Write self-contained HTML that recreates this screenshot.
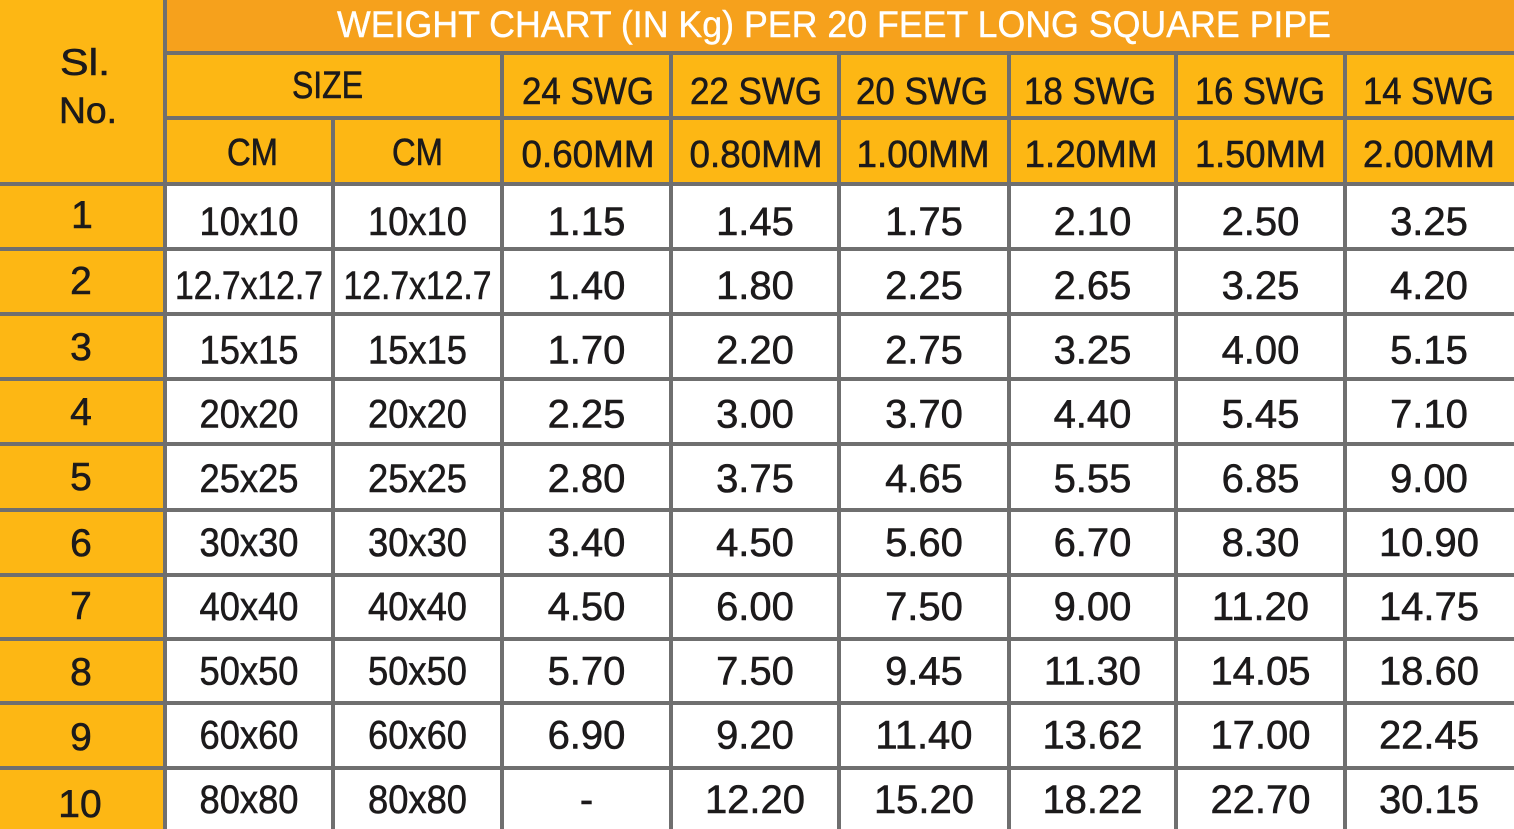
<!DOCTYPE html>
<html><head><meta charset="utf-8"><style>
html,body{margin:0;padding:0;background:#fff;}
svg{display:block;}
text{font-family:"Liberation Sans","DejaVu Sans",sans-serif;}
</style></head><body>
<svg width="1514" height="829" viewBox="0 0 1514 829" xmlns="http://www.w3.org/2000/svg">
<rect x="0" y="0" width="1514" height="829" fill="#6f6f6f"/>
<rect x="0" y="0" width="163" height="182" fill="#fdb714"/>
<rect x="167" y="0" width="1347" height="51" fill="#f6a11c"/>
<g fill="#fdb714">
<rect x="167" y="55" width="333" height="61"/>
<rect x="504" y="55" width="165" height="61"/>
<rect x="673" y="55" width="164" height="61"/>
<rect x="841" y="55" width="166" height="61"/>
<rect x="1011" y="55" width="163" height="61"/>
<rect x="1178" y="55" width="165" height="61"/>
<rect x="1347" y="55" width="167" height="61"/>
<rect x="167" y="120" width="164" height="62"/>
<rect x="335" y="120" width="165" height="62"/>
<rect x="504" y="120" width="165" height="62"/>
<rect x="673" y="120" width="164" height="62"/>
<rect x="841" y="120" width="166" height="62"/>
<rect x="1011" y="120" width="163" height="62"/>
<rect x="1178" y="120" width="165" height="62"/>
<rect x="1347" y="120" width="167" height="62"/>
<rect x="0" y="186" width="163" height="61"/>
<rect x="0" y="251" width="163" height="61"/>
<rect x="0" y="316" width="163" height="61"/>
<rect x="0" y="381" width="163" height="61"/>
<rect x="0" y="446" width="163" height="62"/>
<rect x="0" y="512" width="163" height="61"/>
<rect x="0" y="577" width="163" height="60"/>
<rect x="0" y="641" width="163" height="60"/>
<rect x="0" y="705" width="163" height="61"/>
<rect x="0" y="770" width="163" height="59"/>
</g>
<g fill="#ffffff">
<rect x="167" y="186" width="164" height="643"/>
<rect x="335" y="186" width="165" height="643"/>
<rect x="504" y="186" width="165" height="643"/>
<rect x="673" y="186" width="164" height="643"/>
<rect x="841" y="186" width="166" height="643"/>
<rect x="1011" y="186" width="163" height="643"/>
<rect x="1178" y="186" width="165" height="643"/>
<rect x="1347" y="186" width="167" height="643"/>
</g>
<g fill="#6f6f6f">
<rect x="0" y="247" width="1514" height="4"/>
<rect x="0" y="312" width="1514" height="4"/>
<rect x="0" y="377" width="1514" height="4"/>
<rect x="0" y="442" width="1514" height="4"/>
<rect x="0" y="508" width="1514" height="4"/>
<rect x="0" y="573" width="1514" height="4"/>
<rect x="0" y="637" width="1514" height="4"/>
<rect x="0" y="701" width="1514" height="4"/>
<rect x="0" y="766" width="1514" height="4"/>
</g>

<text x="337" y="37" font-size="37" fill="#ffffff" stroke="#ffffff" stroke-width="0.4" textLength="994" lengthAdjust="spacingAndGlyphs">WEIGHT CHART (IN Kg) PER 20 FEET LONG SQUARE PIPE</text>
<g fill="#1c1a1b" stroke="#1c1a1b" stroke-width="0.6" font-size="37" text-anchor="middle">
<text x="85" y="75" textLength="50" lengthAdjust="spacingAndGlyphs">Sl.</text>
<text x="88" y="123" textLength="58" lengthAdjust="spacingAndGlyphs">No.</text>
<text x="327.5" y="98" font-size="38" textLength="71" lengthAdjust="spacingAndGlyphs">SIZE</text>
<text x="252.5" y="165" font-size="38" textLength="51" lengthAdjust="spacingAndGlyphs">CM</text>
<text x="417.5" y="165" font-size="38" textLength="51" lengthAdjust="spacingAndGlyphs">CM</text>
</g>
<g fill="#1c1a1b" stroke="#1c1a1b" stroke-width="0.6" font-size="38" text-anchor="middle">
<text x="588" y="104" textLength="132" lengthAdjust="spacingAndGlyphs">24 SWG</text>
<text x="756" y="104" textLength="132" lengthAdjust="spacingAndGlyphs">22 SWG</text>
<text x="922" y="104" textLength="132" lengthAdjust="spacingAndGlyphs">20 SWG</text>
<text x="1090" y="104" textLength="132" lengthAdjust="spacingAndGlyphs">18 SWG</text>
<text x="1260" y="104" textLength="130" lengthAdjust="spacingAndGlyphs">16 SWG</text>
<text x="1428.5" y="104" textLength="131" lengthAdjust="spacingAndGlyphs">14 SWG</text>
<text x="588" y="167" textLength="133" lengthAdjust="spacingAndGlyphs">0.60MM</text>
<text x="756" y="167" textLength="133" lengthAdjust="spacingAndGlyphs">0.80MM</text>
<text x="923" y="167" textLength="133" lengthAdjust="spacingAndGlyphs">1.00MM</text>
<text x="1091" y="167" textLength="133" lengthAdjust="spacingAndGlyphs">1.20MM</text>
<text x="1260.5" y="167" textLength="131" lengthAdjust="spacingAndGlyphs">1.50MM</text>
<text x="1429" y="167" textLength="132" lengthAdjust="spacingAndGlyphs">2.00MM</text>
</g>

<g fill="#1c1a1b" stroke="#1c1a1b" stroke-width="0.6" font-size="39" text-anchor="middle">
<text x="82" y="228">1</text>
<text x="81" y="294">2</text>
<text x="81" y="360">3</text>
<text x="81" y="425">4</text>
<text x="81" y="490">5</text>
<text x="81" y="556">6</text>
<text x="81" y="619">7</text>
<text x="81" y="685">8</text>
<text x="81" y="750">9</text>
<text x="80" y="817">10</text>
</g>

<g fill="#1c1a1b" stroke="#1c1a1b" stroke-width="0.6" font-size="40" text-anchor="middle">
<g transform="translate(0,235)">
<text x="249" y="0" textLength="99" lengthAdjust="spacingAndGlyphs">10x10</text>
<text x="417.5" y="0" textLength="99" lengthAdjust="spacingAndGlyphs">10x10</text>
<text x="586.5" y="0">1.15</text><text x="755" y="0">1.45</text><text x="924" y="0">1.75</text><text x="1092.5" y="0">2.10</text><text x="1260.5" y="0">2.50</text><text x="1429" y="0">3.25</text>
</g>
<g transform="translate(0,299.2)">
<text x="249" y="0" textLength="148" lengthAdjust="spacingAndGlyphs">12.7x12.7</text>
<text x="417.5" y="0" textLength="148" lengthAdjust="spacingAndGlyphs">12.7x12.7</text>
<text x="586.5" y="0">1.40</text><text x="755" y="0">1.80</text><text x="924" y="0">2.25</text><text x="1092.5" y="0">2.65</text><text x="1260.5" y="0">3.25</text><text x="1429" y="0">4.20</text>
</g>
<g transform="translate(0,363.4)">
<text x="249" y="0" textLength="99" lengthAdjust="spacingAndGlyphs">15x15</text>
<text x="417.5" y="0" textLength="99" lengthAdjust="spacingAndGlyphs">15x15</text>
<text x="586.5" y="0">1.70</text><text x="755" y="0">2.20</text><text x="924" y="0">2.75</text><text x="1092.5" y="0">3.25</text><text x="1260.5" y="0">4.00</text><text x="1429" y="0">5.15</text>
</g>
<g transform="translate(0,427.6)">
<text x="249" y="0" textLength="99" lengthAdjust="spacingAndGlyphs">20x20</text>
<text x="417.5" y="0" textLength="99" lengthAdjust="spacingAndGlyphs">20x20</text>
<text x="586.5" y="0">2.25</text><text x="755" y="0">3.00</text><text x="924" y="0">3.70</text><text x="1092.5" y="0">4.40</text><text x="1260.5" y="0">5.45</text><text x="1429" y="0">7.10</text>
</g>
<g transform="translate(0,491.8)">
<text x="249" y="0" textLength="99" lengthAdjust="spacingAndGlyphs">25x25</text>
<text x="417.5" y="0" textLength="99" lengthAdjust="spacingAndGlyphs">25x25</text>
<text x="586.5" y="0">2.80</text><text x="755" y="0">3.75</text><text x="924" y="0">4.65</text><text x="1092.5" y="0">5.55</text><text x="1260.5" y="0">6.85</text><text x="1429" y="0">9.00</text>
</g>
<g transform="translate(0,556)">
<text x="249" y="0" textLength="99" lengthAdjust="spacingAndGlyphs">30x30</text>
<text x="417.5" y="0" textLength="99" lengthAdjust="spacingAndGlyphs">30x30</text>
<text x="586.5" y="0">3.40</text><text x="755" y="0">4.50</text><text x="924" y="0">5.60</text><text x="1092.5" y="0">6.70</text><text x="1260.5" y="0">8.30</text><text x="1429" y="0">10.90</text>
</g>
<g transform="translate(0,620.2)">
<text x="249" y="0" textLength="99" lengthAdjust="spacingAndGlyphs">40x40</text>
<text x="417.5" y="0" textLength="99" lengthAdjust="spacingAndGlyphs">40x40</text>
<text x="586.5" y="0">4.50</text><text x="755" y="0">6.00</text><text x="924" y="0">7.50</text><text x="1092.5" y="0">9.00</text><text x="1260.5" y="0">11.20</text><text x="1429" y="0">14.75</text>
</g>
<g transform="translate(0,684.4)">
<text x="249" y="0" textLength="99" lengthAdjust="spacingAndGlyphs">50x50</text>
<text x="417.5" y="0" textLength="99" lengthAdjust="spacingAndGlyphs">50x50</text>
<text x="586.5" y="0">5.70</text><text x="755" y="0">7.50</text><text x="924" y="0">9.45</text><text x="1092.5" y="0">11.30</text><text x="1260.5" y="0">14.05</text><text x="1429" y="0">18.60</text>
</g>
<g transform="translate(0,748.6)">
<text x="249" y="0" textLength="99" lengthAdjust="spacingAndGlyphs">60x60</text>
<text x="417.5" y="0" textLength="99" lengthAdjust="spacingAndGlyphs">60x60</text>
<text x="586.5" y="0">6.90</text><text x="755" y="0">9.20</text><text x="924" y="0">11.40</text><text x="1092.5" y="0">13.62</text><text x="1260.5" y="0">17.00</text><text x="1429" y="0">22.45</text>
</g>
<g transform="translate(0,812.8)">
<text x="249" y="0" textLength="99" lengthAdjust="spacingAndGlyphs">80x80</text>
<text x="417.5" y="0" textLength="99" lengthAdjust="spacingAndGlyphs">80x80</text>
<text x="586.5" y="0">-</text><text x="755" y="0">12.20</text><text x="924" y="0">15.20</text><text x="1092.5" y="0">18.22</text><text x="1260.5" y="0">22.70</text><text x="1429" y="0">30.15</text>
</g>
</g>
</svg>
</body></html>
